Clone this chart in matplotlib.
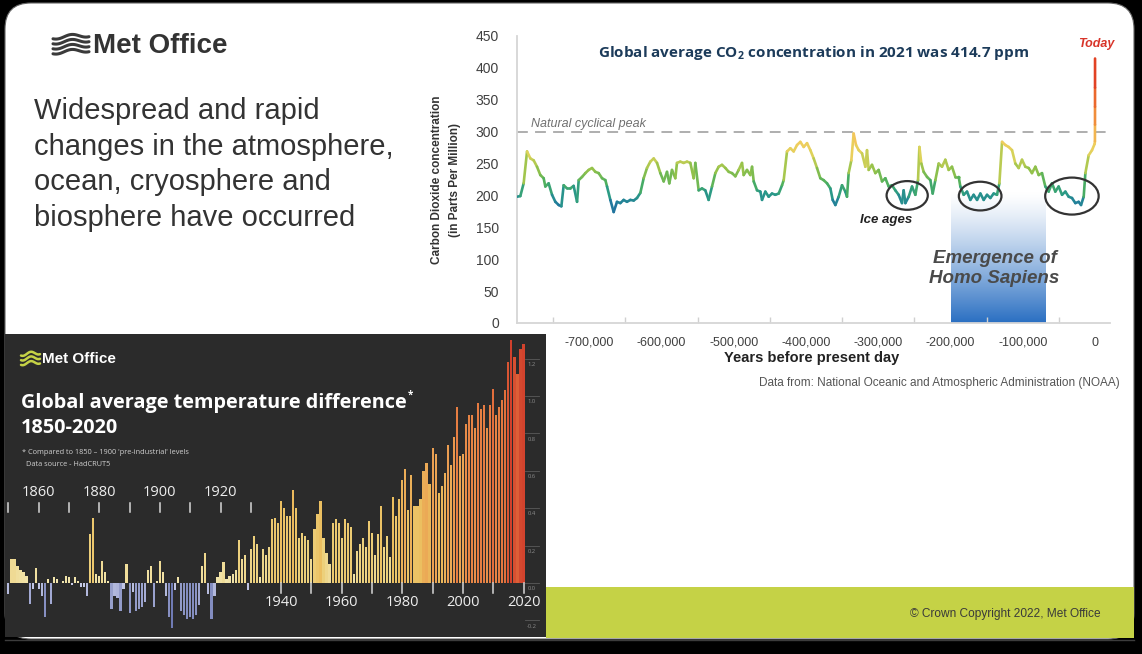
import matplotlib
matplotlib.use('Agg')
import matplotlib.pyplot as plt
import numpy as np
from matplotlib.patches import FancyBboxPatch, Rectangle, Ellipse
from matplotlib.collections import LineCollection
from matplotlib.colors import LinearSegmentedColormap, Normalize, to_rgb
from matplotlib.ticker import FuncFormatter, FixedLocator

# ---------------- DATA ----------------
# CO2 record (years before present, ppm)
co2_years = [-800000, -795400, -790800, -786100, -781500, -776900, -772300, -767700, -763100, -760800,
             -756200, -751500, -746900, -742300, -738600, -735400, -730800, -726200, -721600, -716900,
             -714600, -710000, -705400, -700800, -696200, -691600, -687000, -682300, -677700, -675400,
             -670800, -666200, -661600, -657000, -652400, -647800, -643100, -638500, -633900, -629300,
             -624700, -620100, -615500, -610800, -606200, -601600, -597000, -592400, -589200, -585500,
             -580900, -578600, -574000, -569400, -564700, -560100, -555500, -553200, -548600, -544000,
             -539400, -534800, -530100,
             -525500, -520900, -516300, -511600, -507000, -502400, -497800, -493200, -488600, -486300,
             -481700, -477100, -474700, -472400, -467800, -463200, -460900, -456300, -451700, -447100,
             -442500, -437800, -433200, -430900, -426300, -421700, -417100, -412500, -407900, -403200,
             -398600, -394000, -389400, -384800, -380200, -375600, -370900, -366300, -363100, -359400,
             -354800, -350200, -345600, -343300, -341000, -337300, -334100, -330800, -327100, -322500,
             -317900, -315600, -313300, -308700, -304100, -299500, -294800, -290200, -285600, -281000,
             -276400, -271800, -267200, -264900, -262500, -257900, -253300, -248700,
             -245000, -243100, -240400, -237200, -232500, -227900, -224700, -221000, -216400, -211800,
             -207200, -202600, -198000, -193300, -188700, -186400, -181800, -177200, -172600, -168000,
             -163300, -158700, -154100, -149500, -144900, -140300, -135700, -132400, -128700, -124100,
             -119500, -114900, -110300, -105700, -101100, -96500, -91900, -87300, -82600, -78000,
             -73400, -68800, -64200, -59600, -55000, -50400, -45700, -41100, -36500, -31900,
             -27300, -22700, -19400, -15700, -13400, -8800, -4200, -500,
             -171, -71, -41, -21, 0]
co2_ppm = [198, 199, 219, 269, 258, 255, 245, 232, 227, 214,
           219, 201, 190, 185, 183, 216, 211, 211, 215, 190,
           224, 229, 235, 240, 243, 237, 235, 227, 224, 214,
           193, 174, 190, 188, 193, 190, 193, 192, 196, 204,
           227, 243, 253, 258, 251, 235, 222, 237, 219, 240,
           227, 251, 253, 251, 253, 251, 227, 251, 208, 211,
           208, 193, 214,
           235, 245, 248, 243, 237, 235, 230, 240, 251, 232,
           240, 232, 245, 222, 208, 206, 193, 206, 198, 203,
           201, 203, 216, 224, 269, 274, 269, 279, 284, 276,
           282, 271, 258, 243, 227, 224, 219, 211, 193, 185,
           198, 216, 206, 198, 235, 255, 297, 279, 271, 266,
           245, 271, 240, 248, 235, 240, 222, 227, 214, 216,
           208, 201, 188, 208, 188, 198, 214, 201,
           224, 276, 250, 237, 229, 224, 203, 224, 250, 245,
           256, 240, 245, 229, 229, 214, 201, 206, 193, 201,
           193, 203, 193, 201, 196, 203, 201, 219, 284, 279,
           276, 271, 250, 243, 256, 245, 243, 235, 245, 232,
           235, 214, 206, 219, 206, 214, 201, 206, 198, 196,
           188, 190, 185, 198, 235, 263, 271, 281,
           285, 311, 339, 369, 414.7]

co2_yticks = [0, 50, 100, 150, 200, 250, 300, 350, 400, 450]
co2_xticks = [-700000, -600000, -500000, -400000, -300000, -200000, -100000, 0]
natural_peak = 300
homo_sapiens_span = (-200000, -69000)
ice_age_centres = [(-260000, 200), (-159000, 199), (-32000, 199)]
ice_age_sizes = [(57000, 45), (59000, 45), (74000, 58)]

# Temperature anomaly vs 1850-1900 (HadCRUT5)
temp_years = list(range(1850, 2021))
temp_anom = [-0.06, 0.13, 0.13, 0.09, 0.07, 0.06, 0.04, -0.11, -0.03, 0.08,
             -0.03, -0.07, -0.18, 0.02, -0.11, 0.03, 0.02, 0.00, 0.01, 0.04,
             0.03, -0.01, 0.03, 0.01, -0.02, -0.02, -0.07, 0.26, 0.35, 0.05,
             0.04, 0.12, 0.06, 0.01, -0.14, -0.07, -0.08, -0.15, -0.03, 0.10,
             -0.16, -0.05, -0.15, -0.14, -0.13, -0.10, 0.07, 0.09, -0.13, 0.01,
             0.12, 0.06, -0.07, -0.18, -0.24, -0.04, 0.03, -0.15, -0.17, -0.19,
             -0.18, -0.19, -0.17, -0.12, 0.09, 0.16, -0.06, -0.19, -0.07, 0.03,
             0.06, 0.11, 0.02, 0.04, 0.05, 0.07, 0.23, 0.13, 0.15, -0.04,
             0.18, 0.25, 0.21, 0.03, 0.18, 0.15, 0.19, 0.34, 0.35, 0.32,
             0.44, 0.40, 0.36, 0.36, 0.50, 0.40, 0.24, 0.27, 0.25, 0.23,
             0.13, 0.29, 0.37, 0.44, 0.24, 0.16, 0.10, 0.32, 0.34, 0.32,
             0.24, 0.34, 0.32, 0.30, 0.05, 0.17, 0.21, 0.24, 0.19, 0.33,
             0.27, 0.15, 0.26, 0.41, 0.19, 0.25, 0.14, 0.46, 0.36, 0.45,
             0.55, 0.61, 0.39, 0.58, 0.41, 0.41, 0.45, 0.60, 0.64, 0.53,
             0.72, 0.69, 0.48, 0.52, 0.59, 0.74, 0.63, 0.78, 0.94, 0.68,
             0.69, 0.85, 0.90, 0.90, 0.83, 0.96, 0.93, 0.95, 0.83, 0.95,
             1.04, 0.90, 0.94, 0.98, 1.03, 1.18, 1.30, 1.21, 1.12, 1.25,
             1.28]
temp_top_label_years = [1860, 1880, 1900, 1920]
temp_top_tick_years = list(range(1850, 1931, 10))
temp_bottom_label_years = [1940, 1960, 1980, 2000, 2020]
temp_bottom_tick_years = list(range(1940, 2021, 10))
temp_scale_values = [1.2, 1.0, 0.8, 0.6, 0.4, 0.2, 0.0, -0.2]

# ---------------- FIGURE ----------------
W, H = 1142, 654
fig = plt.figure(figsize=(W / 100, H / 100), dpi=100, facecolor='black')

def fr(x0, y0, x1, y1):
    return [x0 / W, 1 - y1 / H, (x1 - x0) / W, (y1 - y0) / H]

NARROW = ['Liberation Sans Narrow', 'Liberation Sans', 'DejaVu Sans']
ARIAL = ['Liberation Sans', 'DejaVu Sans']
ROUND = ['Open Sans', 'Lato', 'DejaVu Sans']

bg = fig.add_axes([0, 0, 1, 1])
bg.set_xlim(0, W)
bg.set_ylim(H, 0)
bg.axis('off')
bg.add_patch(FancyBboxPatch((5, 3), 1129, 636, boxstyle='round,pad=0,rounding_size=26',
                            fc='white', ec='#666666', lw=0.8, zorder=0))
bg.add_patch(Rectangle((5, 334), 541, 303, fc='#2b2b2b', ec='none', zorder=1))
bg.add_patch(Rectangle((546, 587), 588, 51, fc='#c5d246', ec='none', zorder=1))
bg.plot([5, 1134], [640, 640], color='#3c3c3c', lw=1, zorder=1)

# Met Office logo (top-left)
def wave_logo(x0, y0, w, h, color, n=4, lw=2.0):
    lx = np.linspace(0, 1, 60)
    for i in range(n):
        yy = y0 + h * (i + 0.5) / n + 0.18 * h / n * np.sin(2 * np.pi * lx * 1.2 + 0.8) * 2
        bg.plot(x0 + w * lx, yy - h * 0.12 * lx, color=color, lw=lw, solid_capstyle='round', zorder=3)

wave_logo(53, 35, 36, 20, '#3a3a3a', n=4, lw=2.2)
bg.text(93, 46, 'Met Office', fontsize=20, fontweight='bold', color='#333333',
        family=ARIAL, va='center', ha='left', zorder=3)

# Left statement text
for i, line in enumerate(['Widespread and rapid', 'changes in the atmosphere,',
                          'ocean, cryosphere and', 'biosphere have occurred']):
    bg.text(34, 111 + i * 35.6, line, fontsize=21, color='#333333', family=ARIAL,
            va='center', ha='left', zorder=3)

# ---------------- CO2 CHART ----------------
ax = fig.add_axes(fr(517, 36, 1109.5, 323))
ax.set_facecolor('none')
stops = [(170, '#1f5fa6'), (188, '#22809a'), (203, '#2b9a86'), (218, '#4caf5f'),
         (240, '#94c24a'), (262, '#dcd35a'), (285, '#f3cc5e'), (310, '#f2a043'),
         (350, '#ec6d2e'), (415, '#dd2b1f')]
lo, hi = stops[0][0], stops[-1][0]
co2_cmap = LinearSegmentedColormap.from_list('co2', [((v - lo) / (hi - lo), c) for v, c in stops])
norm = Normalize(lo, hi)

# Homo sapiens gradient
n = 256
f = np.linspace(0, 1, n)[:, None]
top_c = np.array(to_rgb('#ffffff'))
bot_c = np.array(to_rgb('#2a6fc2'))
ff = f ** 1.25
grad = (top_c * (1 - ff) + bot_c * ff).reshape(n, 1, 3)
ax.imshow(grad, extent=[homo_sapiens_span[0], homo_sapiens_span[1], 0, 205],
          aspect='auto', origin='upper', zorder=1, interpolation='bilinear')

ax.axhline(natural_peak, color='#a8a8a8', lw=1.3, dashes=(6, 4), zorder=2)

pts = np.column_stack([co2_years, co2_ppm])
segs = np.stack([pts[:-1], pts[1:]], axis=1)
mids = (np.array(co2_ppm[:-1]) + np.array(co2_ppm[1:])) / 2
lc = LineCollection(segs, colors=co2_cmap(norm(mids)), linewidths=1.9, zorder=3,
                    capstyle='round', joinstyle='round')
ax.add_collection(lc)

for (cx, cy), (ew, eh) in zip(ice_age_centres, ice_age_sizes):
    ax.add_patch(Ellipse((cx, cy), ew, eh, fill=False, ec='#333333', lw=1.6, zorder=4))

ax.set_xlim(-800000, 20000)
ax.set_ylim(0, 450)
for s in ['top', 'right']:
    ax.spines[s].set_visible(False)
for s in ['left', 'bottom']:
    ax.spines[s].set_color('#d6d6d6')
    ax.spines[s].set_linewidth(1.3)
ax.set_yticks(co2_yticks)
ax.set_xticks(co2_xticks)
ax.xaxis.set_major_formatter(FuncFormatter(lambda v, p: f'{int(v):,}'))
ax.xaxis.set_minor_locator(FixedLocator([t - 50000 for t in co2_xticks]))
ax.tick_params(axis='both', which='major', length=0, labelcolor='#404040', labelsize=10)
ax.tick_params(axis='x', which='major', labelsize=9)
ax.tick_params(axis='y', pad=13)
ax.tick_params(axis='x', pad=10)
ax.tick_params(axis='x', which='minor', direction='in', length=4, color='#d0d0d0', width=1)
for lab in ax.get_xticklabels() + ax.get_yticklabels():
    lab.set_family(NARROW)

ax.text(0.5, 0.94, r'Global average CO$_\mathregular{2}$ concentration in 2021 was 414.7 ppm',
        transform=ax.transAxes, ha='center', va='center', fontsize=11, fontweight='bold',
        color='#1c3b5a', family=ROUND)
ax.text(-780000, 312, 'Natural cyclical peak', fontsize=9, style='italic', color='#707070',
        family=NARROW, va='center', ha='left')
ax.text(2000, 438, 'Today', fontsize=9, style='italic', fontweight='bold', color='#d8352a',
        family=NARROW, va='center', ha='center')
ax.text(-289000, 161, 'Ice ages', fontsize=9.5, style='italic', fontweight='bold', color='#222222',
        family=NARROW, va='center', ha='center')
ax.text(-139000, 85, 'Emergence of\nHomo Sapiens', fontsize=13.5, style='italic', fontweight='bold',
        color='#4a4a4a', family=ARIAL, va='center', ha='center', linespacing=1.22, zorder=5)

bg.text(812, 358, 'Years before present day', fontsize=10.5, fontweight='bold', color='#222222',
        family=NARROW, ha='center', va='center', zorder=3)
bg.text(437, 180, 'Carbon Dioxide concentration', fontsize=8.5, fontweight='bold', color='#333333',
        family=ARIAL, rotation=90, ha='center', va='center', zorder=3)
bg.text(455, 180, '(in Parts Per Million)', fontsize=8.5, fontweight='bold', color='#333333',
        family=ARIAL, rotation=90, ha='center', va='center', zorder=3)
bg.text(1120, 383, 'Data from: National Oceanic and Atmospheric Administration (NOAA)', fontsize=8.5,
        color='#555555', family=NARROW, ha='right', va='center', zorder=3)
bg.text(1101, 614, '\u00a9 Crown Copyright 2022, Met Office', fontsize=8.6, color='#3a3a3a',
        family=ARIAL, ha='right', va='center', zorder=3)

# ---------------- TEMPERATURE CHART ----------------
tax = fig.add_axes(fr(5, 334, 546, 637))
tax.set_facecolor('none')
tax.axis('off')
ppy = 3.03
x0px = 8.4
base_px = 583
ppd = 187.0
tax.set_xlim(1850 + (5 - x0px) / ppy, 1850 + (546 - x0px) / ppy)
tax.set_ylim(-(637 - base_px) / ppd, (base_px - 334) / ppd)

pos_cmap = LinearSegmentedColormap.from_list('pos', [(0, '#f2e6b0'), (0.18, '#ecd07c'), (0.36, '#ebbd5d'),
                                                      (0.56, '#eb9f52'), (0.76, '#e5773f'), (1.0, '#d1402c')])
neg_cmap = LinearSegmentedColormap.from_list('neg', [(0, '#cdd1ec'), (1.0, '#6c77b2')])
cols = [pos_cmap(min(v / 1.3, 1)) if v >= 0 else neg_cmap(min(-v / 0.25, 1)) for v in temp_anom]
tax.bar(temp_years, temp_anom, width=0.72, color=cols, zorder=2)

def v_of(py):
    return (base_px - py) / ppd

for yr in temp_top_tick_years:
    tax.plot([yr, yr], [v_of(503), v_of(512)], color='#d8d8d8', lw=1.1, zorder=3)
for yr in temp_top_label_years:
    tax.text(yr, v_of(493), str(yr), fontsize=10.5, color='#eeeeee', family=ROUND,
             ha='center', va='center')
for yr in temp_bottom_tick_years:
    tax.plot([yr, yr], [0, v_of(593)], color='#d8d8d8', lw=1.1, zorder=3)
for yr in temp_bottom_label_years:
    tax.text(yr, v_of(602), str(yr), fontsize=10.5, color='#eeeeee', family=ROUND,
             ha='center', va='center')
xr = 1850 + (532 - x0px) / ppy
for v in temp_scale_values:
    tax.plot([xr - 2.2, xr + 2.2], [v, v], color='#5a5a5a', lw=0.6)
    tax.text(xr, v - 0.03, f'{v:.1f}', fontsize=4.2, color='#8a8a8a', ha='center', va='center',
             family=ROUND)

# Temperature panel texts
wave_logo(21, 352, 19, 14, '#c5d246', n=3, lw=1.8)
bg.text(42, 359, 'Met Office', fontsize=11, fontweight='bold', color='white', family=ARIAL,
        ha='left', va='center', zorder=3)
bg.text(21, 403, 'Global average temperature difference', fontsize=14.3, fontweight='bold',
        color='white', family=ROUND, ha='left', va='center', zorder=3)
bg.text(410, 395, '*', fontsize=7, fontweight='bold', color='white', family=ROUND,
        ha='center', va='center', zorder=3)
bg.text(21, 428, '1850-2020', fontsize=14.3, fontweight='bold', color='white', family=ROUND,
        ha='left', va='center', zorder=3)
bg.text(22, 453, "* Compared to 1850 \u2013 1900 'pre-industrial' levels", fontsize=5.3,
        color='#cfcfcf', family=ROUND, ha='left', va='center', zorder=3)
bg.text(26, 465, 'Data source - HadCRUT5', fontsize=5.3, color='#cfcfcf', family=ROUND,
        ha='left', va='center', zorder=3)

fig.savefig('out.png', dpi=100, facecolor='black')
